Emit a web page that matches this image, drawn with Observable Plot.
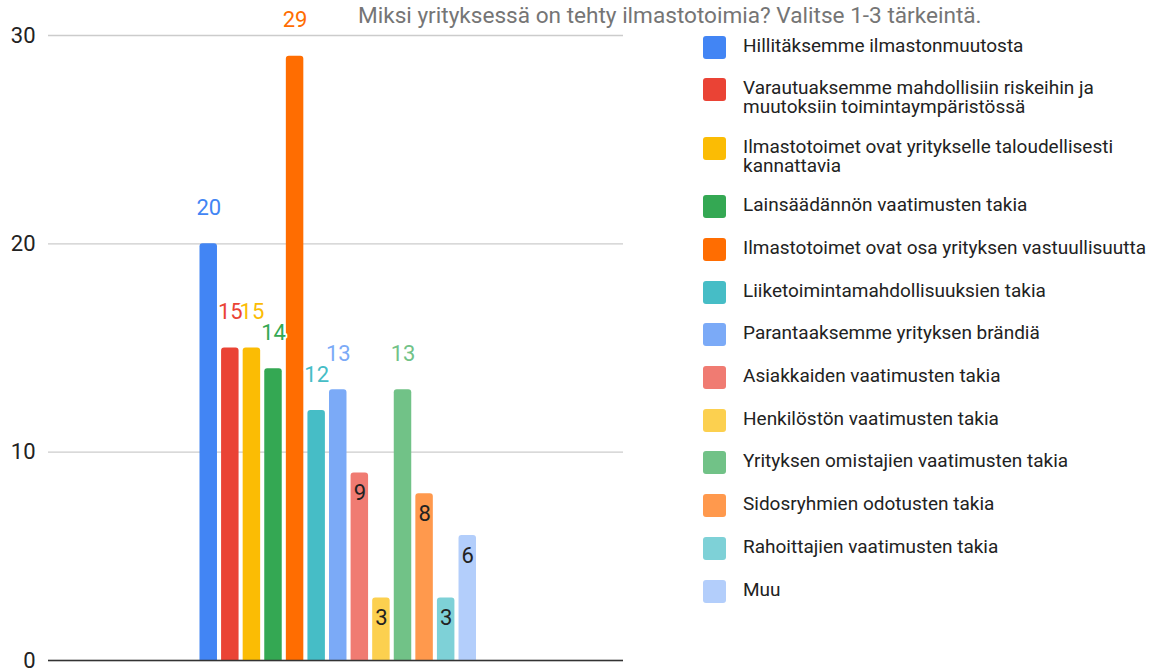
<!DOCTYPE html>
<html>
<head>
<meta charset="utf-8">
<script src="https://cdn.jsdelivr.net/npm/d3@7"></script>
<script src="https://cdn.jsdelivr.net/npm/@observablehq/plot@0.6"></script>
<style>
  body { margin: 0; background: #fff; }
  #wrap { position: relative; width: 1152px; height: 670px; overflow: hidden; font-family: Roboto, "Noto Sans", sans-serif; }
  #chart { position: absolute; left: 0; top: 0; }
  #title { position: absolute; left: 358px; top: 1.5px; font-size: 22.6px; color: #757575; white-space: nowrap; }
  .item { position: absolute; left: 703px; display: flex; align-items: flex-start; }
  .sw { width: 23px; height: 23px; border-radius: 3px; flex: none; }
  .lab { margin-left: 17px; font-size: 19px; line-height: 19px; color: #222; width: 412px; }
</style>
</head>
<body>
<div id="wrap">
  <div id="chart"></div>
  <div id="title"></div>
  <div id="legend"></div>
</div>
<script>
const titleText = "Miksi yrityksessä on tehty ilmastotoimia? Valitse 1-3 tärkeintä.";
const categories = [
  "Hillitäksemme ilmastonmuutosta",
  "Varautuaksemme mahdollisiin riskeihin ja muutoksiin toimintaympäristössä",
  "Ilmastotoimet ovat yritykselle taloudellisesti kannattavia",
  "Lainsäädännön vaatimusten takia",
  "Ilmastotoimet ovat osa yrityksen vastuullisuutta",
  "Liiketoimintamahdollisuuksien takia",
  "Parantaaksemme yrityksen brändiä",
  "Asiakkaiden vaatimusten takia",
  "Henkilöstön vaatimusten takia",
  "Yrityksen omistajien vaatimusten takia",
  "Sidosryhmien odotusten takia",
  "Rahoittajien vaatimusten takia",
  "Muu"
];
const values = [20, 15, 15, 14, 29, 12, 13, 9, 3, 13, 8, 3, 6];
const colors = ["#4285f4", "#ea4335", "#fbbc04", "#34a853", "#ff6d01", "#46bdc6", "#7baaf7",
                "#f07b72", "#fcd04f", "#71c287", "#ff994d", "#7ed1d7", "#b3cefb"];
const yTicks = [0, 10, 20, 30];

const data = categories.map((c, i) => ({category: c, value: values[i]}));

const chart = Plot.plot({
  width: 1152,
  height: 670,
  marginLeft: 48,
  marginRight: 529,
  marginTop: 35,
  marginBottom: 10,
  style: {fontFamily: "Roboto, sans-serif", background: "transparent", overflow: "visible"},
  x: {type: "band", domain: categories, range: [199.5, 476], paddingInner: 0.19, paddingOuter: 0, round: false, axis: null},
  y: {domain: [0, 30], axis: null},
  color: {domain: categories, range: colors},
  marks: [
    Plot.gridY(yTicks, {stroke: "#cccccc", strokeOpacity: 1, strokeWidth: 1.3}),
    Plot.axisY(yTicks, {tickSize: 0, tickPadding: 13, fontSize: 22, fill: "#222", label: null, tickFormat: d => String(d)}),
    Plot.barY(data, {x: "category", y: "value", fill: "category", ry1: 3}),
    Plot.ruleY([0], {stroke: "#333", strokeWidth: 1.5}),
    Plot.text(data.filter(d => d.value >= 10), {
      x: "category", y: "value", text: d => String(d.value),
      fill: "category", stroke: "white", strokeWidth: 4, dy: -36, fontSize: 22
    }),
    Plot.text(data.filter(d => d.value < 10), {
      x: "category", y: "value", text: d => String(d.value),
      fill: "#222", stroke: "category", strokeWidth: 3, dy: 20, fontSize: 22
    })
  ]
});
document.getElementById("chart").appendChild(chart);
document.getElementById("title").textContent = titleText;

const legend = d3.select("#legend");
let rowTop = 35.7;
categories.forEach((c, i) => {
  const item = legend.append("div").attr("class", "item").style("top", rowTop + "px");
  item.append("div").attr("class", "sw").style("background", colors[i]);
  const lab = item.append("div").attr("class", "lab").text(c);
  const lines = Math.round(lab.node().offsetHeight / 19);
  rowTop += 42.7 + (lines - 1) * 15.7;
});
</script>
</body>
</html>
